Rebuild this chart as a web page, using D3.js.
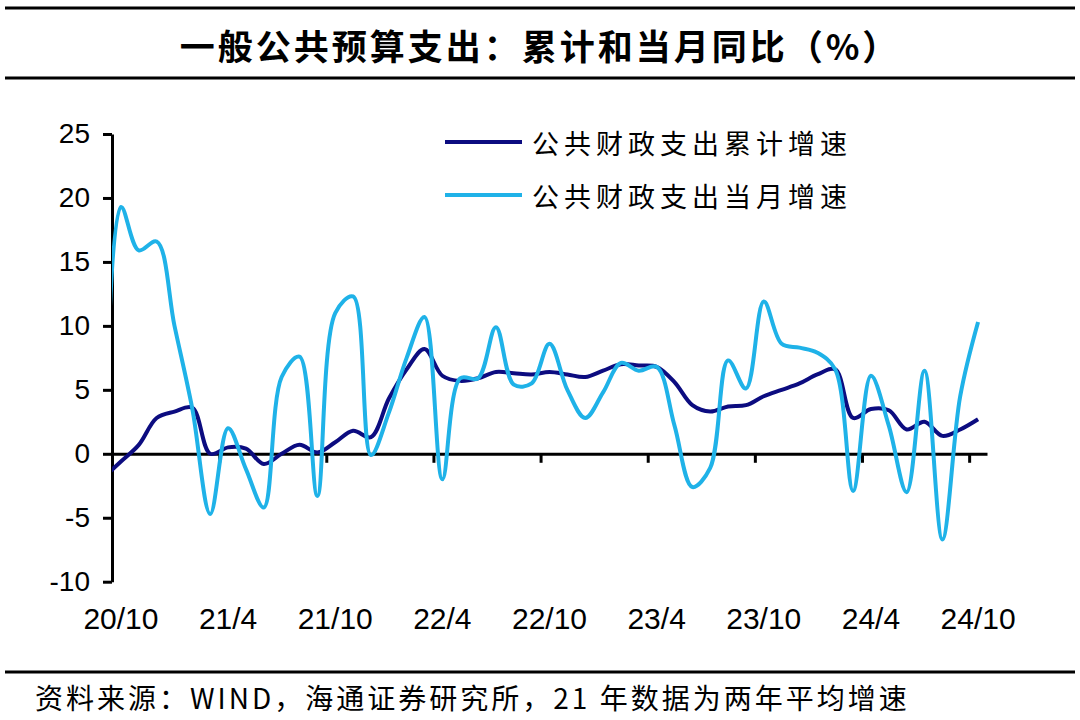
<!DOCTYPE html>
<html>
<head>
<meta charset="utf-8">
<script src="https://cdn.jsdelivr.net/npm/d3@7/dist/d3.min.js"></script>
<style>
  body { margin: 0; background: #fff; }
  svg { display: block; }
</style>
</head>
<body>
<svg id="chart" width="1080" height="720"></svg>
<script>
// Months (20/9 lies just left of the axis and is clipped, as in the source)
const months = [
  '20/9', '20/10', '20/11', '20/12',
  '21/1', '21/2', '21/3', '21/4', '21/5', '21/6', '21/7', '21/8', '21/9', '21/10', '21/11', '21/12',
  '22/1', '22/2', '22/3', '22/4', '22/5', '22/6', '22/7', '22/8', '22/9', '22/10', '22/11', '22/12',
  '23/1', '23/2', '23/3', '23/4', '23/5', '23/6', '23/7', '23/8', '23/9', '23/10', '23/11', '23/12',
  '24/1', '24/2', '24/3', '24/4', '24/5', '24/6', '24/7', '24/8', '24/9', '24/10'
];

// 公共财政支出累计增速
const cumulative = [
  -1.9, -0.6, 0.7, 2.8,
  3.3, 3.6, 0.0, 0.5, 0.4, -0.8, 0.0, 0.7, 0.1, 0.9, 1.8, 1.3,
  4.3, 6.6, 8.2, 6.1, 5.7, 5.9, 6.4, 6.3, 6.2, 6.4, 6.2, 6.0,
  6.5, 7.0, 6.9, 6.8, 5.6, 3.8, 3.3, 3.7, 3.8, 4.5, 5.0, 5.5,
  6.2, 6.6, 2.8, 3.5, 3.4, 1.9, 2.5, 1.4, 1.9, 2.7
];

// 公共财政支出当月增速
const monthly = [
  -9.0, 19.3, 15.9, 16.6,
  10.0, 3.5, -4.7, 2.0, -1.2, -4.2, 6.0, 7.6, -3.3, 11.0, 12.3, -0.1,
  3.2, 7.5, 10.7, -2.0, 5.9, 5.9, 9.9, 5.4, 5.5, 8.6, 5.0, 2.8,
  4.8, 7.1, 6.5, 6.8, 2.2, -2.6, -1.1, 7.3, 5.1, 11.9, 8.6, 8.3,
  7.9, 6.6, -2.9, 6.1, 2.2, -3.0, 6.5, -6.7, 4.5, 10.3
];

const xTickLabels = ['20/10', '21/4', '21/10', '22/4', '22/10', '23/4', '23/10', '24/4', '24/10'];
const yTicks = [-10, -5, 0, 5, 10, 15, 20, 25];

const seriesNames = ['公共财政支出累计增速', '公共财政支出当月增速'];
const seriesColors = ['#0c0c80', '#1fb2e8'];

const svg = d3.select('#chart');
const W = 1080;
const numFont = '"Liberation Sans", Arial, sans-serif';
const cjkFont = '"Noto Sans CJK SC", "Noto Sans", sans-serif';

// Title and rules
svg.append('line').attr('x1', 5).attr('x2', W - 5).attr('y1', 8).attr('y2', 8)
    .attr('stroke', '#000').attr('stroke-width', 3);
svg.append('text')
    .attr('x', W / 2).attr('y', 44)
    .attr('text-anchor', 'middle').attr('dominant-baseline', 'central')
    .style('font-family', cjkFont).style('font-size', '35px').style('font-weight', 'bold')
    .style('letter-spacing', '3px')
    .text('一般公共预算支出：累计和当月同比（%）');
svg.append('line').attr('x1', 5).attr('x2', W - 5).attr('y1', 78).attr('y2', 78)
    .attr('stroke', '#000').attr('stroke-width', 3);

// Footer
svg.append('line').attr('x1', 5).attr('x2', W - 5).attr('y1', 672).attr('y2', 672)
    .attr('stroke', '#000').attr('stroke-width', 3);
svg.append('text')
    .attr('x', 35).attr('y', 697)
    .attr('dominant-baseline', 'central')
    .style('font-family', cjkFont).style('font-size', '28px')
    .style('letter-spacing', '3px')
    .text('资料来源：WIND，海通证券研究所，21 年数据为两年平均增速');

// Scales: index 0 = 20/10, each month occupies one band
const idx0 = months.indexOf('20/10');
const x = d3.scaleLinear().domain([-0.5, months.length - idx0 - 0.5]).range([112, 987]);
const y = d3.scaleLinear().domain([-10, 25]).range([581.7, 134]);

// Clip so nothing draws left of the y axis
svg.append('defs').append('clipPath').attr('id', 'plot-clip')
    .append('rect').attr('x', 112).attr('y', 90).attr('width', 900).attr('height', 560);

// Y axis
const yAxis = svg.append('g')
    .attr('transform', 'translate(112,0)')
    .call(d3.axisLeft(y).tickValues(yTicks).tickSize(9).tickSizeOuter(0).tickPadding(13)
        .tickFormat(d => String(d)));
yAxis.select('.domain').attr('stroke-width', 3);
yAxis.selectAll('.tick line').attr('stroke-width', 3);
yAxis.selectAll('.tick text')
    .style('font-family', numFont).style('font-size', '28px').attr('fill', '#000');

// X axis sits on zero
const tickIdx = d3.range(0, 9).map(k => k * 6 - 0.5);
const xAxis = svg.append('g')
    .attr('transform', `translate(0,${y(0)})`)
    .call(d3.axisBottom(x).tickValues(tickIdx).tickSize(9).tickSizeOuter(0).tickFormat(''));
xAxis.select('.domain').attr('stroke-width', 3);
xAxis.selectAll('.tick line').attr('stroke-width', 3);

svg.append('g').selectAll('text')
    .data(xTickLabels)
    .join('text')
    .attr('x', d => x(months.indexOf(d) - idx0))
    .attr('y', 629)
    .attr('text-anchor', 'middle')
    .style('font-family', numFont).style('font-size', '30px')
    .text(d => d);

// Lines
const line = d3.line()
    .x((d, i) => x(i - idx0))
    .y(d => y(d))
    .curve(d3.curveCatmullRom.alpha(0.5));

const plot = svg.append('g').attr('clip-path', 'url(#plot-clip)');
[cumulative, monthly].forEach((vals, s) => {
    plot.append('path')
        .datum(vals)
        .attr('fill', 'none')
        .attr('stroke', seriesColors[s])
        .attr('stroke-width', 4)
        .attr('stroke-linejoin', 'round')
        .attr('d', line);
});

// Legend
const legend = svg.append('g');
seriesNames.forEach((name, i) => {
    const ly = 142 + i * 53;
    legend.append('line')
        .attr('x1', 445).attr('x2', 522).attr('y1', ly).attr('y2', ly)
        .attr('stroke', seriesColors[i]).attr('stroke-width', 4);
    legend.append('text')
        .attr('x', 532).attr('y', ly)
        .attr('dominant-baseline', 'central')
        .style('font-family', cjkFont).style('font-size', '27px')
        .style('letter-spacing', '5px')
        .text(name);
});
</script>
</body>
</html>
